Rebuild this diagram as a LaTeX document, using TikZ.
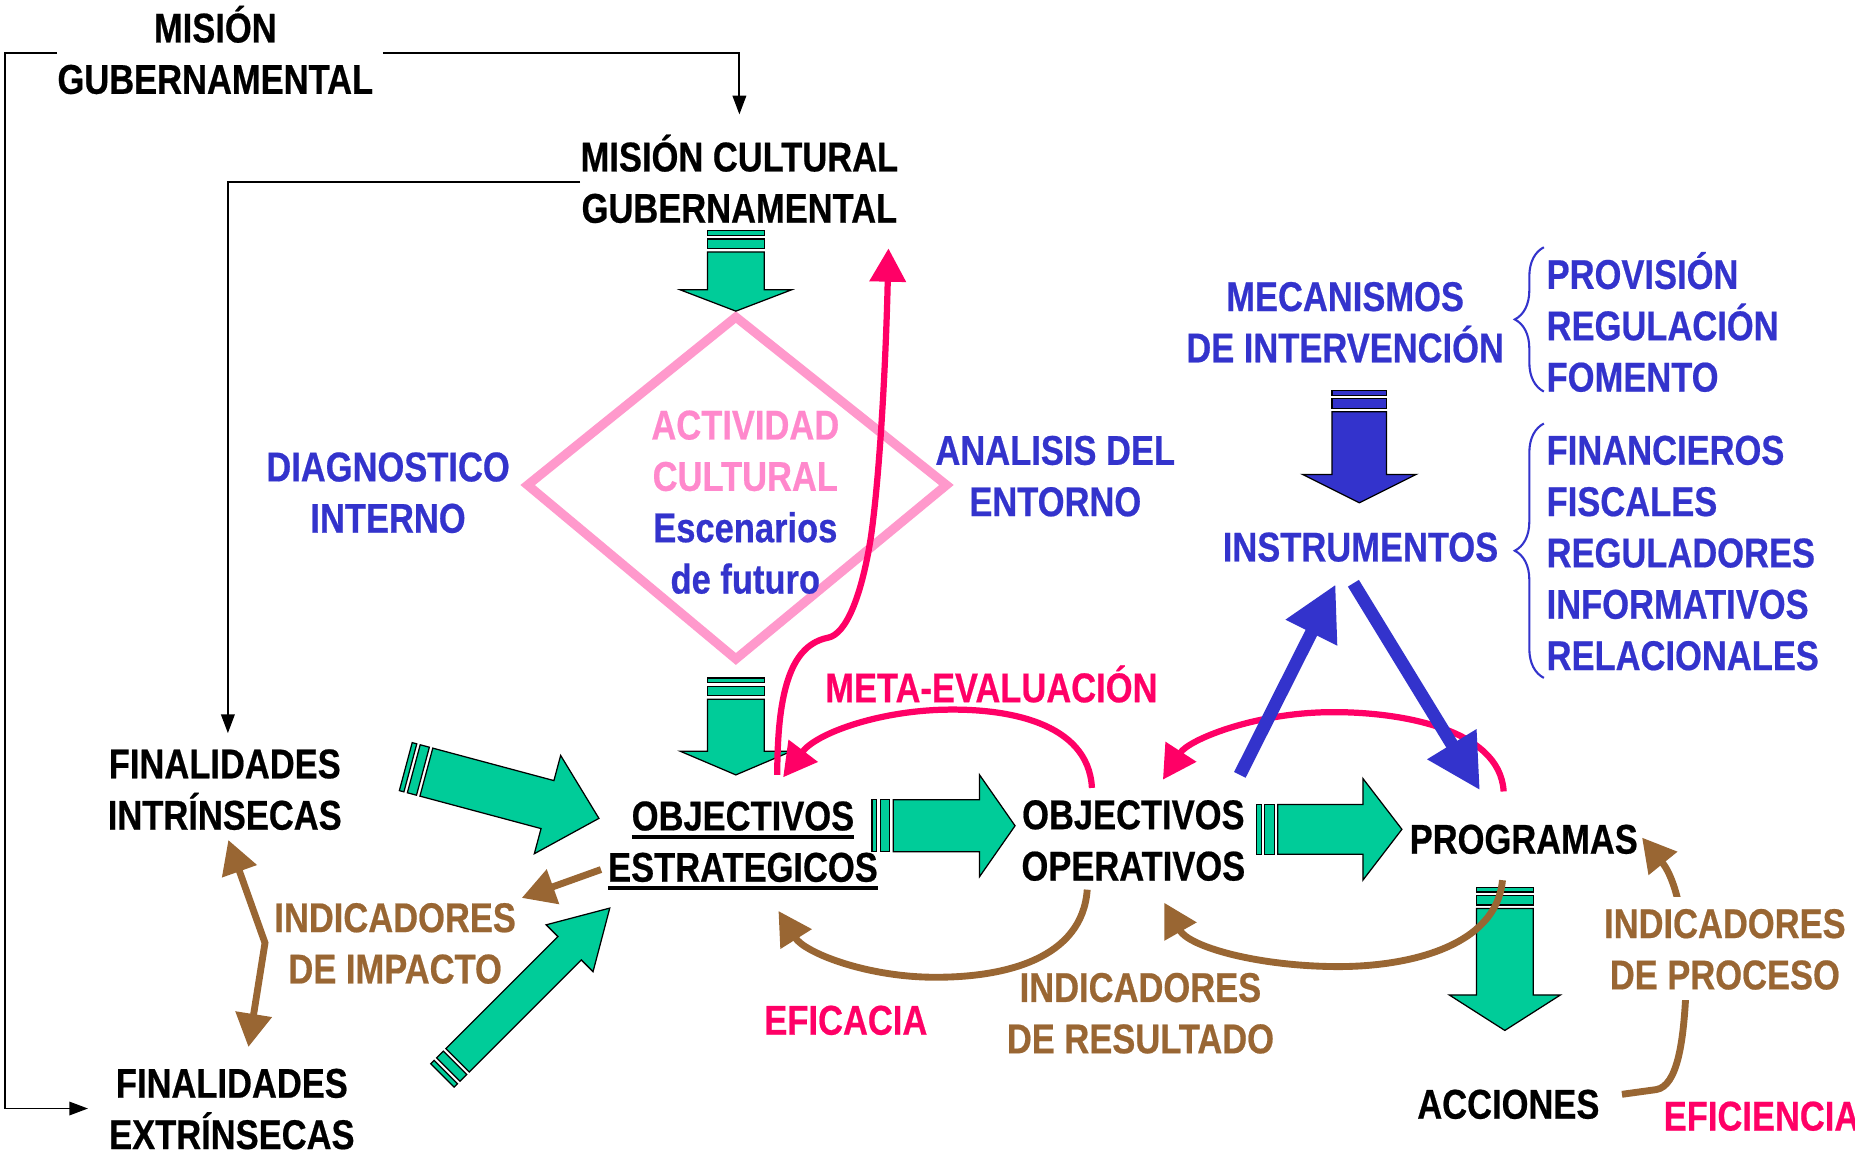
\documentclass[tikz,border=0pt]{standalone}
\usepackage{fontspec}
\setmainfont{Liberation Sans}[FakeStretch=0.83,FakeBold=0.5]
\usetikzlibrary{arrows.meta,decorations.pathreplacing}
\definecolor{cgreen}{HTML}{00CC99}
\definecolor{cblue}{HTML}{3333CC}
\definecolor{cpink}{HTML}{FF99CC}
\definecolor{cpinktext}{HTML}{FF88CC}
\definecolor{cmag}{HTML}{FF0066}
\definecolor{cbrown}{HTML}{996633}
\newcommand\sx{\rule[-5.19pt]{0pt}{24.7pt}}
\newcommand\myul[1]{\setbox0=\hbox{#1}\rlap{\rule[-4pt]{\wd0}{1.7pt}}\box0}
\newcommand\blockarr[8]{%
 \begin{scope}[shift={(#2,#3)},rotate=#4]
  \filldraw[fill=#1,draw=black,line width=0.6pt] (0,-#6) rectangle (4,#6);
  \filldraw[fill=#1,draw=black,line width=0.6pt] (7,-#6) rectangle (15,#6);
  \filldraw[fill=#1,draw=black,line width=0.6pt,line join=miter] (18,-#6) -- ({#5-#8},-#6) -- ({#5-#8},-#7) -- (#5,0) -- ({#5-#8},#7) -- ({#5-#8},#6) -- (18,#6) -- cycle;
 \end{scope}}
\begin{document}
\begin{tikzpicture}[x=0.02cm,y=-0.02cm,
 txt/.style={align=center,inner sep=0pt,font=\fontsize{20pt}{24.7pt}\selectfont\bfseries},
 thinc/.style={draw=black,line width=0.9pt,-{Triangle[length=9pt,width=6.5pt]}},
 pinkc/.style={draw=cmag,line width=3pt,-{Triangle[length=16pt,width=17pt]}},
 brownc/.style={draw=cbrown,line width=3.3pt,-{Triangle[length=16pt,width=17pt]}},
 bluec/.style={draw=cblue,line width=6.2pt,-{Triangle[length=26pt,width=26pt]}},
 bracec/.style={draw=cblue,line width=1pt,decorate,decoration={brace,amplitude=14pt}}
 ]
\fill[white] (0,0) rectangle (1568,974);
\useasboundingbox (0,0) rectangle (1568,974);

% diamond
\draw[cpink,line width=4.4pt] (622,268) -- (800,410) -- (622,557) -- (446,410) -- cycle;

% block arrows
\blockarr{cgreen}{622}{195}{-90}{68}{24}{47}{18}
\blockarr{cgreen}{622}{573}{-90}{82}{24}{47}{20}
\blockarr{cgreen}{737}{698}{0}{121}{22}{43}{30}
\blockarr{cgreen}{1062}{701}{0}{123}{21}{43}{33}
\blockarr{cgreen}{1272}{750}{-90}{121}{24}{47}{30}
\blockarr{cgreen}{343}{648}{-15}{169}{21}{43}{45}
\blockarr{cgreen}{374}{909}{45}{200}{14}{28}{48}
\blockarr{cblue}{1149}{330}{-90}{95}{23}{48}{24}

% text nodes
\node[txt] (misg) at (182,45) {\sx MISIÓN\\\sx GUBERNAMENTAL};
\node[txt] (misc) at (625,154) {\sx MISIÓN CULTURAL\\\sx GUBERNAMENTAL};
\node[txt] (finint) at (190,667) {\sx FINALIDADES\\\sx INTRÍNSECAS};
\node[txt] (finext) at (196,937) {\sx FINALIDADES\\\sx EXTRÍNSECAS};
\node[txt] (objest) at (628,711) {\sx\myul{OBJECTIVOS}\\\sx\myul{ESTRATEGICOS}};
\node[txt] (objop) at (958,710) {\sx OBJECTIVOS\\\sx OPERATIVOS};
\node[txt] (prog) at (1288,709) {\sx PROGRAMAS};
\node[txt] (acc) at (1275,933) {\sx ACCIONES};
\node[txt,text=cblue] (diag) at (328,416) {\sx DIAGNOSTICO\\\sx INTERNO};
\node[txt,text=cblue] (anal) at (892,402) {\sx ANALISIS DEL\\\sx ENTORNO};
\node[txt,text=cblue] (mec) at (1137,272) {\sx MECANISMOS\\\sx DE INTERVENCIÓN};
\node[txt,text=cblue] (inst) at (1150,462) {\sx INSTRUMENTOS};
\node[txt,text=cblue,align=left,anchor=west] (prov) at (1307,275) {\sx PROVISIÓN\\\sx REGULACIÓN\\\sx FOMENTO};
\node[txt,text=cblue,align=left,anchor=west] (fins) at (1307,467) {\sx FINANCIEROS\\\sx FISCALES\\\sx REGULADORES\\\sx INFORMATIVOS\\\sx RELACIONALES};
\node[txt] (act) at (630,424) {\textcolor{cpinktext}{\sx ACTIVIDAD}\\\textcolor{cpinktext}{\sx CULTURAL}\\\textcolor{cblue}{\sx Escenarios}\\\textcolor{cblue}{\sx de futuro}};
\node[txt,text=cmag] (meta) at (838,581) {\sx META-EVALUACIÓN};
\node[txt,text=cmag] (efic) at (715,862) {\sx EFICACIA};
\node[txt,text=cmag,anchor=west] (efi2) at (1406,943) {\sx EFICIENCIA};
\node[txt,text=cbrown] (indimp) at (334,797) {\sx INDICADORES\\\sx DE IMPACTO};
\node[txt,text=cbrown] (indres) at (964,856) {\sx INDICADORES\\\sx DE RESULTADO};

% braces
\draw[bracec] (1305,331) -- (1305,209);
\draw[bracec] (1305,573) -- (1305,358);

% thin black connectors
\coordinate (lc) at (4,45);
\draw[thinc] (misg.west) -- (lc) |- ([xshift=-10pt]finext.west);
\draw[thinc] ([xshift=4.5pt]misg.east) -| ([yshift=7.7pt]misc.north);
\draw[thinc] (misc.west) -| ([xshift=1.5pt,yshift=2pt]finint.north);

% pink arrows
\coordinate (p1s) at (657,655);
\coordinate (p1e) at (751,210);
\draw[pinkc] (p1s) .. controls (657,580) and (670,545) .. (700,539) .. controls (715,536) and (728,505) .. (736,455) .. controls (744,400) and (749,300) .. (p1e);
\coordinate (m1s) at (923,666);
\coordinate (m1e) at (662,657);
\draw[pinkc] (m1s) .. controls (920,610) and (850,598) .. (794,600) .. controls (740,602) and (690,620) .. (m1e);
\coordinate (m2s) at (1271,669);
\coordinate (m2e) at (983,659);
\draw[pinkc] (m2s) .. controls (1268,615) and (1180,601) .. (1122,602) .. controls (1060,603) and (1005,625) .. (m2e);

% blue arrows
\coordinate (b1s) at (1048,655);
\coordinate (b1e) at (1129,494);
\draw[bluec] (b1s) -- (b1e);
\coordinate (b2s) at (1144,493);
\coordinate (b2e) at (1251,668);
\draw[bluec] (b2s) -- (b2e);

% brown arrows
\coordinate (br1s) at (919,752);
\coordinate (br1e) at (658,770);
\draw[brownc] (br1s) .. controls (915,810) and (850,827) .. (786,826) .. controls (730,825) and (680,805) .. (br1e);
\coordinate (br2s) at (1270,744);
\coordinate (br2e) at (984,763);
\draw[brownc] (br2s) .. controls (1265,800) and (1190,818) .. (1126,817) .. controls (1060,816) and (1005,800) .. (br2e);
\coordinate (br3s) at (1371,925);
\coordinate (br3e) at (1388,708);
\draw[brownc] (br3s) -- (1400,921) .. controls (1418,918) and (1423,880) .. (1425,840) .. controls (1427,790) and (1418,745) .. (br3e);
\coordinate (imp1) at (193,710);
\coordinate (impj) at (224,797);
\coordinate (imp2) at (210,885);
\draw[cbrown,line width=3.3pt,{Triangle[length=16pt,width=17pt]}-{Triangle[length=16pt,width=17pt]}] (imp1) -- (impj) -- (imp2);
\coordinate (br4s) at (508,735);
\coordinate (br4e) at (441,759);
\draw[brownc] (br4s) -- (br4e);

\node[txt,text=cbrown,fill=white] (indpro) at (1458,802) {\sx INDICADORES\\\sx DE PROCESO};
\end{tikzpicture}
\end{document}
